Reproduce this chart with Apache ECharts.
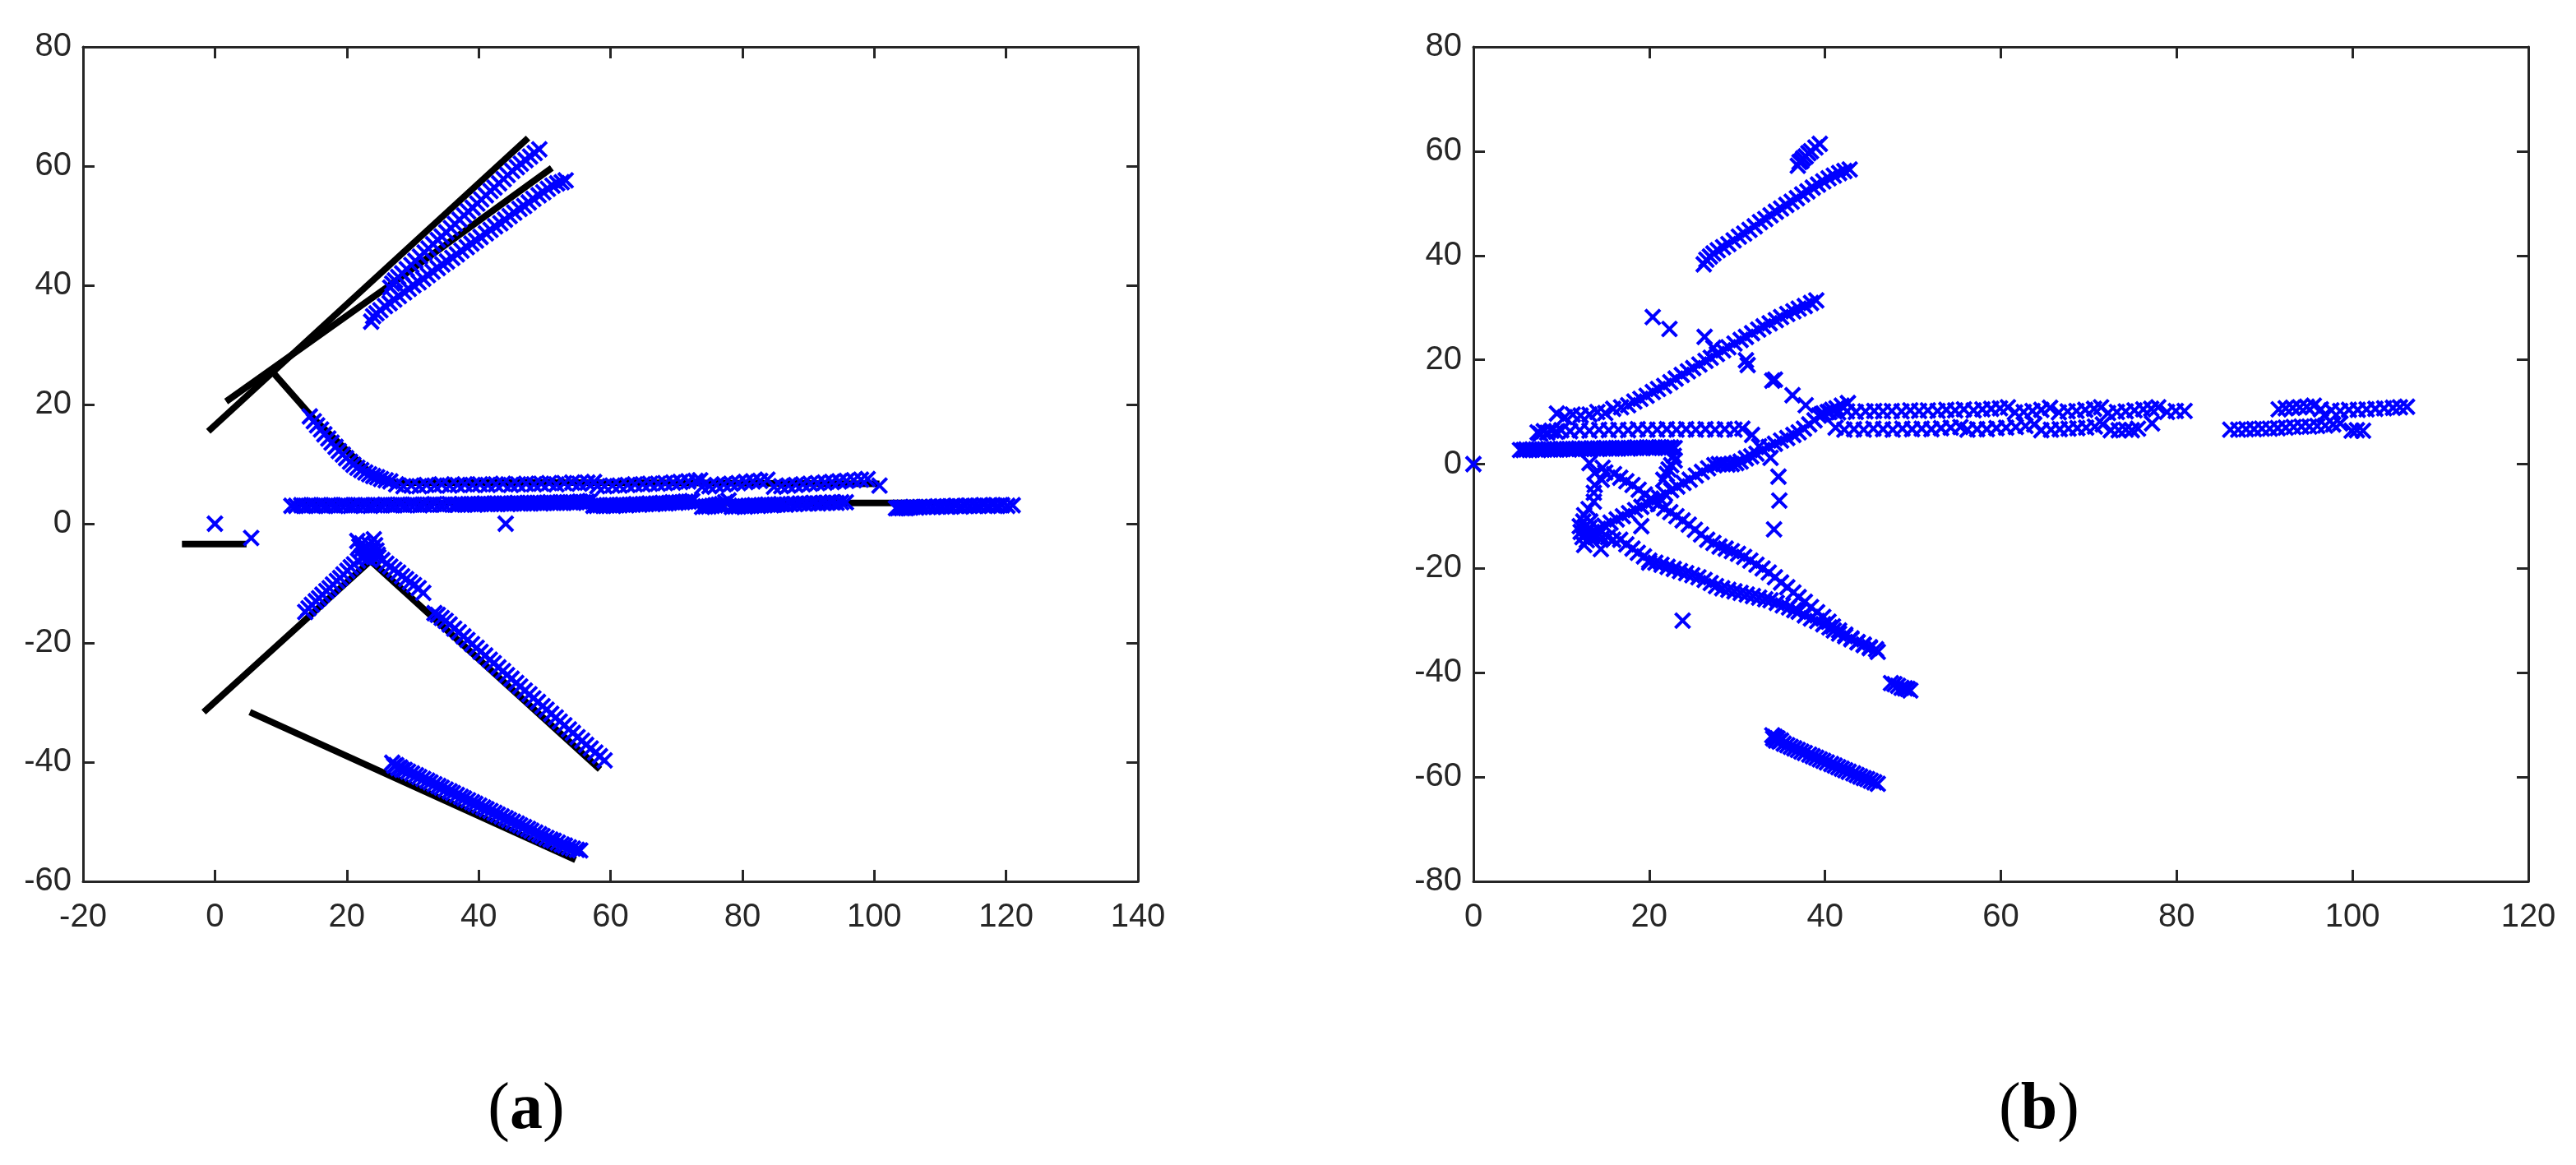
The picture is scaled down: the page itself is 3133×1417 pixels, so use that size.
<!DOCTYPE html>
<html>
<head>
<meta charset="utf-8">
<style>html,body{margin:0;padding:0;background:#fff}#c{width:3133px;height:1417px}</style>
<script src="https://cdn.jsdelivr.net/npm/echarts@6/dist/echarts.min.js"></script>
</head>
<body>
<div id="c"></div>
<script>
// ---------- tick labels ----------
const xTicksA = [-20,0,20,40,60,80,100,120,140];
const yTicksA = [-60,-40,-20,0,20,40,60,80];
const xTicksB = [0,20,40,60,80,100,120];
const yTicksB = [-80,-60,-40,-20,0,20,40,60,80];
const captionA = 'a';
const captionB = 'b';

// ---------- panel (a): black reference segments ----------
const lineA1 = [[-1,15.5],[47.5,64.7]];
const lineA2 = [[1.7,20.5],[26,39.6],[51.1,59.7]];
const lineA3 = [[8.8,25.4],[15,17.6],[24,8],[27.5,6.9],[60,6.9],[100.8,6.7]];
const lineA4 = [[12,3.5],[112,3.5]];
const lineA5 = [[-5,-3.4],[4.8,-3.4]];
const lineA6 = [[-1.7,-31.6],[23.6,-6.2],[58.4,-41.2]];
const lineA7 = [[5.3,-31.6],[54.7,-56.4]];

// ---------- panel (a): detections ----------
const aIso = [[0,0],[5.5,-2.4],[44.1,0]];
const aU1 = [[26.6,39.6],[26.9,40.3],[27.3,40.8],[27.8,41.4],[28.4,42],[29.1,42.7],[29.8,43.4],[30.4,44.1],[31.1,44.8],[31.8,45.5],[32.4,46.2],[33.1,46.9],[33.8,47.6],[34.4,48.2],[35.1,48.9],[35.8,49.6],[36.4,50.3],[37.1,51],[37.8,51.7],[38.4,52.4],[39.1,53],[39.8,53.7],[40.4,54.4],[41.1,55.1],[41.8,55.8],[42.4,56.4],[43.1,57.1],[43.8,57.8],[44.4,58.5],[45.1,59.2],[45.8,59.8],[46.4,60.4],[47.1,61],[47.8,61.6],[48.5,62.2],[49.2,62.8]];
const aU2 = [[23.7,33.9],[24,34.8],[24.5,35.3],[25.1,35.8],[25.8,36.5],[26.5,37],[27.2,37.6],[27.9,38.2],[28.7,38.8],[29.4,39.4],[30.1,40],[30.9,40.5],[31.6,41.1],[32.3,41.7],[33,42.3],[33.8,42.9],[34.5,43.5],[35.2,44],[36,44.6],[36.7,45.2],[37.4,45.8],[38.2,46.4],[38.9,47],[39.6,47.5],[40.3,48.1],[41.1,48.7],[41.8,49.3],[42.5,49.9],[43.3,50.4],[44,51],[44.7,51.6],[45.4,52.2],[46.2,52.8],[46.9,53.3],[47.6,53.9],[48.3,54.5],[49.1,55.1],[49.8,55.6],[50.5,56.2],[51.2,56.7],[51.9,57.1],[52.6,57.3],[53.2,57.6]];
const aDiag = [[14.4,18],[15,17.2],[15.5,16.5],[16.1,15.8],[16.6,15],[17.2,14.3],[17.7,13.6],[18.3,12.9],[18.8,12.2],[19.4,11.6],[19.9,11],[20.5,10.4],[21,9.9],[21.6,9.4],[22.2,9],[22.8,8.6],[23.4,8.3],[24,8],[24.6,7.8],[25.2,7.5],[25.9,7.3],[26.6,7.1]];
const aRow7 = [[27.5,6.6],[28.6,6.3],[29.8,6.4],[31,6.3],[32.1,6.5],[33.3,6.4],[34.4,6.6],[35.6,6.4],[36.8,6.5],[37.9,6.6],[39.1,6.5],[40.2,6.6],[41.4,6.5],[42.6,6.6],[43.7,6.7],[44.9,6.5],[46,6.6],[47.2,6.7],[48.4,6.6],[49.5,6.7],[50.7,6.8],[51.8,6.6],[53,6.8],[54.2,6.9],[55.3,6.7],[56.5,6.9],[57.5,7],[58,6.3],[59.1,6.3],[60.3,6.4],[61.4,6.4],[62.6,6.5],[63.7,6.6],[64.9,6.6],[66,6.7],[67.2,6.7],[68.3,6.8],[69.5,6.9],[70.6,7],[71.8,7.1],[72.9,7.2],[73.6,7.3],[73.9,6.2],[75,6.3],[76.1,6.5],[77.2,6.6],[78.3,6.7],[79.4,6.8],[80.5,7],[81.6,7.1],[82.7,7.2],[83.8,7.4],[84.8,6.2],[85.9,6.3],[87,6.4],[88.1,6.5],[89.2,6.6],[90.3,6.7],[91.4,6.8],[92.5,6.9],[93.6,7],[94.7,7.1],[95.8,7.2],[96.9,7.3],[98,7.4],[99,7.5],[100.8,6.4]];
const aRow3 = [[11.6,3],[12.3,3],[13.1,3.1],[13.8,3],[14.6,3.1],[15.3,3],[16.1,3.1],[16.8,3],[17.6,3.1],[18.3,3],[19.1,3.1],[19.8,3.1],[20.6,3],[21.3,3.1],[22.1,3.1],[22.8,3.1],[23.6,3],[24.3,3.1],[25.1,3.1],[25.8,3.2],[26.6,3.1],[27.3,3.1],[28.1,3.2],[28.8,3.1],[29.6,3.2],[30.3,3.2],[31.1,3.1],[31.8,3.2],[32.6,3.2],[33.3,3.3],[34.1,3.2],[34.8,3.2],[35.6,3.3],[36.4,3.2],[36.9,3.2],[37.4,3.3],[37.9,3.2],[38.4,3.3],[38.9,3.3],[39.4,3.2],[39.9,3.3],[40.4,3.3],[40.9,3.4],[41.4,3.3],[41.9,3.3],[42.4,3.4],[42.9,3.3],[43.4,3.4],[43.9,3.4],[44.4,3.3],[44.9,3.4],[45.4,3.4],[45.9,3.5],[46.4,3.4],[46.9,3.4],[47.4,3.5],[47.9,3.4],[48.4,3.5],[48.9,3.5],[49.4,3.4],[49.9,3.5],[50.4,3.5],[50.9,3.6],[51.4,3.5],[51.9,3.5],[52.4,3.6],[52.9,3.5],[53.4,3.6],[53.9,3.6],[54.4,3.5],[54.9,3.6],[55.4,3.7],[55.9,3.6],[56.4,3.7],[56.9,3.8],[57.4,3],[57.9,3],[58.4,3.1],[58.9,3],[59.4,3.1],[59.9,3.1],[60.4,3],[60.9,3.1],[61.4,3.1],[61.9,3.2],[62.4,3.1],[62.9,3.2],[63.4,3.2],[63.9,3.3],[64.4,3.2],[64.9,3.3],[65.4,3.3],[65.9,3.4],[66.4,3.3],[66.9,3.4],[67.4,3.4],[67.9,3.5],[68.4,3.4],[68.9,3.5],[69.4,3.6],[69.9,3.5],[70.4,3.6],[70.9,3.6],[71.4,3.7],[71.9,3.7],[72.4,3.8],[73.9,2.8],[74.4,2.9],[74.9,2.9],[75.4,3],[75.9,3.1],[76.4,3.2],[76.9,3.3],[77.4,3.6],[77.9,3.9],[78.4,2.8],[78.9,2.9],[79.4,2.9],[79.9,3],[80.4,2.9],[80.9,3],[81.4,3],[81.9,3.1],[82.4,3],[82.9,3.1],[83.4,3.1],[83.9,3.2],[84.4,3.1],[84.9,3.2],[85.4,3.2],[85.9,3.3],[86.6,3.2],[87.3,3.3],[88,3.3],[88.7,3.4],[89.4,3.4],[90.1,3.4],[90.8,3.5],[91.5,3.4],[92.2,3.5],[92.9,3.5],[93.6,3.6],[94.3,3.5],[95,3.6],[95.7,3.6],[103.3,2.6],[103.6,2.6],[103.9,2.7],[104.2,2.6],[104.5,2.7],[104.8,2.6],[105.1,2.7],[105.5,2.7],[105.9,2.8],[106.4,2.7],[106.9,2.8],[107.5,2.8],[108.2,2.8],[108.9,2.8],[109.6,2.9],[110.3,2.9],[111,2.9],[111.7,2.9],[112.4,3],[113.1,2.9],[113.8,3],[114.5,3],[115.2,3],[115.9,3],[116.6,3.1],[117.3,3],[118,3.1],[118.7,3],[119.4,3.1],[120.2,3],[121,3.1]];
const aBlob = [[21.6,-2.9],[21.9,-3.8],[22.3,-3.3],[22.2,-4.4],[22.8,-4.1],[23,-4.9],[23.4,-3.5],[24.1,-2.6],[24.3,-3.6],[24.5,-4.5],[23.7,-4.6],[23.2,-5.8],[22.6,-5.6],[24,-5.4],[24.7,-5.2]];
const aL1 = [[13.7,-14.8],[14.2,-14.2],[14.7,-13.6],[15.3,-13],[15.8,-12.5],[16.3,-11.9],[16.9,-11.3],[17.4,-10.8],[17.9,-10.2],[18.5,-9.6],[19,-9.1],[19.5,-8.5],[20.1,-7.9],[20.6,-7.3],[21.1,-6.8],[21.7,-6.2],[22.2,-5.6],[22.7,-5.1]];
const aL2 = [[24.8,-5.6],[25.4,-6.1],[26,-6.7],[26.6,-7.2],[27.2,-7.7],[27.8,-8.2],[28.4,-8.8],[29,-9.3],[29.6,-9.8],[30.2,-10.3],[30.9,-10.8],[31.6,-11.6]];
const aL3 = [[33.3,-15],[33.8,-15.3],[34.4,-15.8],[35,-16.3],[35.6,-16.9],[36.3,-17.6],[37,-18.2],[37.7,-18.9],[38.3,-19.5],[39,-20.2],[39.7,-20.8],[40.3,-21.5],[41,-22.1],[41.7,-22.8],[42.3,-23.4],[43,-24.1],[43.7,-24.7],[44.3,-25.4],[45,-26],[45.7,-26.7],[46.3,-27.3],[47,-28],[47.7,-28.6],[48.3,-29.3],[49,-29.9],[49.7,-30.6],[50.3,-31.2],[51,-31.9],[51.7,-32.5],[52.3,-33.2],[53,-33.8],[53.7,-34.5],[54.3,-35.1],[55,-35.8],[55.7,-36.4],[56.3,-37.1],[57,-37.7],[57.7,-38.4],[58.4,-39],[59.1,-39.7]];
const aL4 = [[26.9,-40.1],[27.2,-40.6],[27.5,-40.5],[27.8,-41],[28.1,-40.9],[28.4,-41.3],[28.8,-41.3],[29.3,-41.6],[29.9,-41.9],[30.5,-42.2],[31,-42.5],[31.6,-42.8],[32.2,-43.1],[32.7,-43.4],[33.3,-43.7],[33.9,-44],[34.4,-44.3],[35,-44.6],[35.6,-44.9],[36.1,-45.2],[36.7,-45.5],[37.3,-45.8],[37.8,-46.1],[38.4,-46.4],[39,-46.7],[39.5,-47],[40.1,-47.3],[40.7,-47.6],[41.2,-47.9],[41.8,-48.2],[42.4,-48.5],[42.9,-48.8],[43.5,-49.1],[44.1,-49.4],[44.6,-49.7],[45.2,-50],[45.8,-50.3],[46.3,-50.6],[46.9,-50.9],[47.5,-51.2],[48,-51.5],[48.6,-51.8],[49.2,-52.1],[49.7,-52.4],[50.3,-52.7],[50.9,-53],[51.4,-53.2],[52,-53.5],[52.6,-53.8],[53.1,-54],[53.7,-54.3],[54.3,-54.5],[54.9,-54.7],[55.4,-54.8]];

// ---------- panel (b): detections ----------
const bIso = [[0,0],[20.4,28.2],[22.3,25.9],[26.3,24.4],[27.3,22.3],[31,19.9],[31.2,19],[34,16],[34.3,16.2],[36.3,13.2],[37.8,11.3],[31.7,5.6],[32.5,3.4],[33.8,1.2],[34.7,-2.4],[34.8,-7],[34.2,-12.5],[23.8,-30],[19.1,-11.9],[12.6,-15.5],[14.5,-16.3],[20,-18.9]];
const bTop1 = [[26.2,38.3],[26.5,39.2],[26.9,39.8],[27.3,40.4],[27.8,41],[28.4,41.6],[29,42.2],[29.6,42.9],[30.2,43.6],[30.8,44.2],[31.4,44.9],[32,45.6],[32.6,46.4],[33.2,47],[33.8,47.7],[34.4,48.4],[35,49],[35.6,49.7],[36.2,50.3],[36.8,51],[37.4,51.7],[38,52.3],[38.6,53],[39.2,53.6],[39.8,54.2],[40.4,54.8],[41,55.3],[41.6,55.8],[42.2,56.2],[42.8,56.5]];
const bTop2 = [[36.9,57.2],[37.1,57.9],[37.3,58.1],[37.5,58.6],[37.8,59],[38.1,59.6],[38.4,60],[38.9,60.7],[39.4,61.4]];
const bR3 = [[9.5,9.7],[10.4,9],[11.3,9.5],[12.2,9.3],[13.2,9.5],[14.1,10],[15,9.8],[15.9,10.6],[16.8,10.9],[17.6,11.3],[18.3,12],[19,12.5],[19.7,13.1],[20.4,13.8],[21,14.4],[21.7,15],[22.4,15.7],[23,16.4],[23.7,17.1],[24.4,17.8],[25,18.4],[25.7,19.1],[26.4,19.8],[27,20.4],[27.7,21.1],[28.4,21.8],[29,22.4],[29.7,23.1],[30.4,23.8],[31,24.4],[31.7,25.1],[32.4,25.8],[33,26.4],[33.7,27],[34.4,27.6],[35,28.2],[35.7,28.8],[36.4,29.3],[37,29.8],[37.7,30.3],[38.4,30.9],[39,31.4]];
const bRow6 = [[7.3,6.1],[7.6,5.8],[8,6.3],[8.4,6],[8.9,6.4],[9.4,6.2],[10,6.5],[11,6.3],[12.1,6.5],[13.2,6.4],[14.3,6.6],[15.4,6.5],[16.5,6.6],[17.6,6.5],[18.7,6.7],[19.8,6.6],[20.9,6.6],[22,6.7],[23.1,6.6],[24.2,6.7],[25.3,6.6],[26.4,6.7],[27.5,6.6],[28.6,6.7],[29.7,6.6],[30.6,6.8]];
const bRow3 = [[5.3,2.7],[5.7,2.7],[6,2.8],[6.4,2.7],[6.7,2.8],[7.1,2.8],[7.4,2.7],[7.8,2.8],[8.1,2.8],[8.5,2.9],[8.8,2.8],[9.2,2.8],[9.5,2.9],[9.9,2.8],[10.2,2.9],[10.6,2.9],[10.9,2.8],[11.3,2.9],[11.6,2.9],[12,3],[12.3,2.9],[12.7,3],[13,2.9],[13.4,3],[13.7,3],[14.1,2.9],[14.4,3],[14.8,3],[15.1,3.1],[15.5,3],[15.8,3],[16.2,3.1],[16.5,3],[16.9,3.1],[17.2,3.1],[17.6,3],[17.9,3.1],[18.3,3.1],[18.6,3.2],[19,3.1],[19.3,3.1],[19.7,3.2],[20,3.1],[20.4,3.2],[20.7,3.1],[21.1,3.2],[21.4,3.2],[21.8,3.1],[22.1,3.2],[22.5,3.2],[22.9,3.1]];
const bTail = [[22.8,1.6],[22.9,0.7],[22.5,-0.2],[22.2,-1],[22,-1.9],[21.6,-3]];
const bLeft = [[13.2,0.2],[13.8,-1.7],[14.7,-0.7],[13.8,-4],[14.6,-3],[13.7,-5.5],[13.7,-7.2],[12.6,-9.8],[13.1,-8.6],[12.1,-11.9],[12.5,-11],[12.9,-13],[12.2,-13],[12.4,-14],[13.2,-12.2],[12.9,-14.6],[13.5,-13.6],[12.7,-12],[13.3,-11]];
const bRise = [[12.8,-13.5],[13.5,-13],[14.2,-12.4],[14.9,-11.8],[15.6,-11.2],[16.3,-10.6],[17,-10],[17.7,-9.4],[18.4,-8.8],[19.1,-8.2],[19.8,-7.6],[20.4,-7],[21.1,-6.4],[21.8,-5.7],[22.5,-5],[23.2,-4.3],[23.9,-3.6],[24.6,-3],[25.3,-2.2],[26,-1.5],[26.7,-0.8],[27.4,-0.2],[27.9,0],[28.4,0],[28.9,-0.1],[29.4,0],[29.9,0.2],[30.4,0.5],[31,1.1],[31.6,1.5],[32.2,2],[32.9,2.7],[33.6,3.3],[34.3,3.9],[35,4.5],[35.7,5],[36.4,5.6],[37,6.1],[37.6,6.8],[38.2,7.6],[38.8,8.4],[39.3,9.3],[39.8,9.7],[40.3,10],[40.8,10.4],[41.3,10.7],[41.9,11.2],[42.6,11.7]];
const bFall = [[15,-1.6],[16,-1.9],[16.7,-2.6],[17.4,-3.3],[18.1,-4],[18.8,-4.9],[19.5,-5.8],[20.2,-6.6],[21,-7.7],[21.7,-8.5],[22.4,-9.2],[23.1,-10],[23.8,-10.8],[24.5,-11.6],[25.2,-12.6],[25.9,-13.5],[26.6,-14.5],[27.3,-15.1],[28,-15.8],[28.7,-16.2],[29.4,-16.7],[30.1,-17.2],[30.8,-17.8],[31.5,-18.5],[32.2,-19.3],[32.9,-20],[33.6,-20.8],[34.3,-21.7],[35,-22.7],[35.7,-23.6],[36.4,-24.6],[37,-25.5],[37.7,-26.4],[38.4,-27.4],[39.1,-28.4],[39.8,-29.3],[40.4,-30.2],[40.9,-31.1],[41.6,-31.9],[42.3,-32.7],[43,-33.4],[43.7,-34.1],[44.4,-34.7],[45.1,-35.3],[46,-36]];
const bLow = [[13.5,-13.9],[14.1,-13.8],[14.7,-14.1],[15.3,-14],[15.9,-14.5],[16.7,-14.5],[17.4,-15.4],[18.1,-16.2],[18.7,-17],[19.4,-17.7],[20,-18.5],[20.7,-18.9],[21.4,-19.3],[22.1,-19.7],[22.8,-20.1],[23.5,-20.5],[24.2,-20.9],[24.9,-21.3],[25.6,-21.7],[26.3,-22.2],[27,-22.8],[27.6,-23.4],[28.3,-23.8],[29,-24.1],[29.7,-24.4],[30.4,-24.7],[31.1,-25],[31.8,-25.3],[32.5,-25.6],[33.2,-25.9],[33.8,-26.1],[34.5,-26.6],[35.2,-27.1],[35.9,-27.5],[36.5,-28],[37,-28.3],[37.7,-29],[38.4,-29.6],[39.1,-30.1],[39.8,-30.7],[40.5,-31.3],[41,-31.9],[41.6,-32.5],[42.3,-33],[43,-33.6],[43.7,-34.2],[44.4,-34.6],[45.1,-35.1],[45.8,-35.5]];
const bDip = [[47.5,-42],[47.9,-42.2],[48.3,-42.5],[48.7,-42.9],[49.1,-43],[49.4,-43.1],[49.7,-43.4]];
const bBottom = [[34,-52],[34.1,-52.6],[34.3,-52.3],[34.4,-53],[34.6,-52.6],[34.8,-53.2],[35,-53],[35.3,-53.6],[35.7,-53.9],[36.1,-54.2],[36.5,-54.5],[36.9,-54.8],[37.3,-55.1],[37.7,-55.4],[38.2,-55.7],[38.6,-56],[39,-56.3],[39.4,-56.6],[39.8,-56.9],[40.2,-57.2],[40.7,-57.5],[41.1,-57.8],[41.5,-58.1],[41.9,-58.4],[42.3,-58.7],[42.7,-59],[43.2,-59.3],[43.6,-59.6],[44,-59.9],[44.4,-60.2],[44.8,-60.4],[45.2,-60.7],[45.6,-61],[46,-61.3]];
const bUpper = [[39.6,9.6],[40.5,10],[41.5,9.9],[42.5,10.1],[43.5,10],[44.6,10.1],[45.6,10.2],[46.6,10.1],[47.6,10.2],[48.7,10.1],[49.7,10.3],[50.7,10.2],[51.7,10.3],[52.8,10.2],[53.8,10.4],[54.8,10.3],[55.8,10.5],[56.9,10.3],[57.9,10.5],[58.9,10.6],[59.9,10.7],[60.8,10.9],[61.6,9.9],[62.6,10],[63.6,10.2],[64.6,10.4],[65.6,10.8],[66.6,9.9],[67.6,10.1],[68.6,10.2],[69.6,10.4],[70.6,10.6],[71.4,10.9],[72.2,9.8],[73.2,10],[74.2,10.1],[75.2,10.3],[76.2,10.5],[77.1,10.6],[77.9,10.9],[78.9,10],[79.9,10.2],[80.9,10.2]];
const bLower = [[41.2,7],[42.2,6.6],[43.3,6.7],[44.4,6.6],[45.5,6.8],[46.6,6.7],[47.7,6.6],[48.8,6.8],[49.9,6.7],[51,6.8],[52.1,6.7],[53.2,6.9],[54.3,7],[55.4,7.1],[56.2,6.6],[57.3,6.7],[58.4,6.7],[59.5,6.9],[60.6,7],[61.7,7.1],[62.8,7.3],[63.8,7.6],[64.6,6.5],[65.7,6.6],[66.7,6.7],[67.7,6.8],[68.7,6.9],[69.7,7],[70.7,7.2],[71.6,7.6],[72.5,6.5],[73.4,6.5],[74.2,6.6],[74.9,6.5],[75.6,6.8],[77.2,7.8]];
const bUpper2 = [[91.6,10.5],[92.4,10.7],[93.2,10.8],[94,10.9],[94.8,11],[95.6,11.2],[96.4,10.5],[96.8,9.4],[97.6,10.3],[98.6,10.2],[99.6,10.4],[100.6,10.4],[101.6,10.5],[102.6,10.6],[103.6,10.7],[104.6,10.8],[105.4,10.9],[106.2,11]];
const bLower2 = [[86.1,6.6],[87,6.6],[87.9,6.7],[88.8,6.7],[89.7,6.8],[90.6,6.8],[91.5,6.9],[92.4,7],[93.3,7.1],[94.2,7.2],[95.1,7.2],[96,7.3],[96.9,7.4],[97.8,7.6],[98.6,7.8],[99.9,6.4],[100.5,6.5],[101.2,6.4]];

const linesA = [lineA1,lineA2,lineA3,lineA4,lineA5,lineA6,lineA7];
const pointsA = [aIso,aU1,aU2,aDiag,aRow7,aRow3,aBlob,aL1,aL2,aL3,aL4];
const pointsB = [bIso,bTop1,bTop2,bR3,bRow6,bRow3,bTail,bLeft,bRise,bFall,bLow,bDip,bBottom,bUpper,bLower,bUpper2,bLower2];

const INK = '#262626';
const BLUE = '#0000ff';
const CROSS = 'path://M0,0L10,10M10,0L0,10';

function lastOf(a){return a[a.length-1];}
function axis(dim, ticks, gridIndex, position, labelled){
  return {
    type:'value', gridIndex, position,
    min:ticks[0], max:lastOf(ticks), interval:ticks[1]-ticks[0],
    axisLine:{show:true,onZero:false,lineStyle:{color:INK,width:3}},
    axisTick:{show:true,inside:true,length:14,lineStyle:{color:INK,width:3}},
    splitLine:{show:false},
    axisLabel:{show:labelled,color:INK,fontFamily:'Liberation Sans',fontSize:40,margin:dim==='x'?24:14,
      hideOverlap:false,showMinLabel:true,showMaxLabel:true}
  };
}
const series = [];
linesA.forEach(l=>series.push({type:'line',xAxisIndex:0,yAxisIndex:0,data:l,symbol:'none',z:2,silent:true,clip:false,
  lineStyle:{color:'#000',width:8,cap:'butt'}}));
function crosses(data,idx){
  return {type:'scatter',xAxisIndex:idx,yAxisIndex:idx,data,symbol:CROSS,symbolSize:18,z:3,silent:true,clip:false,
    itemStyle:{color:'transparent',borderColor:BLUE,borderWidth:4,opacity:1}};
}
pointsA.forEach(p=>series.push(crosses(p,0)));
pointsB.forEach(p=>series.push(crosses(p,2)));

function caption(letter,cx){
  return {text:'{p|(}{a|'+letter+'}{p|)}',left:cx,top:1306,textAlign:'center',
    textStyle:{rich:{
      p:{fontFamily:'Liberation Serif',fontSize:80,color:'#000',fontWeight:'normal'},
      a:{fontFamily:'Liberation Serif',fontSize:80,color:'#000',fontWeight:'bold'}}}};
}
const chart = echarts.init(document.getElementById('c'),null,{renderer:'canvas'});
chart.setOption({
  animation:false,
  backgroundColor:'#fff',
  title:[caption(captionA,635),caption(captionB,2475)],
  grid:[
    {left:101,top:57,width:1283,height:1015,containLabel:false},
    {left:1792,top:57,width:1283,height:1015,containLabel:false}
  ],
  xAxis:[
    axis('x',xTicksA,0,'bottom',true),axis('x',xTicksA,0,'top',false),
    axis('x',xTicksB,1,'bottom',true),axis('x',xTicksB,1,'top',false)
  ],
  yAxis:[
    axis('y',yTicksA,0,'left',true),axis('y',yTicksA,0,'right',false),
    axis('y',yTicksB,1,'left',true),axis('y',yTicksB,1,'right',false)
  ],
  series
});
</script>
</body>
</html>
